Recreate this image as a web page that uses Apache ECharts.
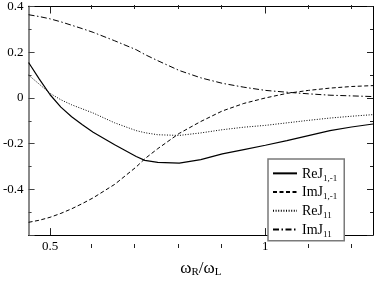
<!DOCTYPE html>
<html>
<head>
<meta charset="utf-8">
<script src="https://cdn.jsdelivr.net/npm/echarts@6/dist/echarts.min.js"></script>
<style>html,body{margin:0;padding:0;background:#fff}#c{width:374px;height:283px}</style>
</head>
<body>
<div id="c"></div>
<script>
// ---- data ----
const xs = [0.45, 0.475, 0.5, 0.525, 0.55, 0.575, 0.6, 0.65, 0.7, 0.72, 0.75, 0.8, 0.85, 0.9, 0.95, 1.0, 1.05, 1.1, 1.15, 1.2, 1.25];
const reJ1m1 = [0.155, 0.082, 0.014, -0.040, -0.082, -0.117, -0.150, -0.205, -0.256, -0.273, -0.282, -0.285, -0.270, -0.245, -0.226, -0.207, -0.187, -0.165, -0.143, -0.127, -0.114];
const imJ1m1 = [-0.544, -0.535, -0.522, -0.505, -0.485, -0.462, -0.437, -0.378, -0.302, -0.266, -0.222, -0.155, -0.103, -0.057, -0.024, 0.000, 0.020, 0.033, 0.043, 0.050, 0.054];
const reJ11 = [0.100, 0.060, 0.020, -0.008, -0.030, -0.048, -0.066, -0.109, -0.143, -0.152, -0.161, -0.164, -0.153, -0.139, -0.128, -0.120, -0.109, -0.098, -0.088, -0.080, -0.073];
const imJ11 = [0.364, 0.356, 0.346, 0.333, 0.318, 0.303, 0.287, 0.250, 0.211, 0.190, 0.163, 0.120, 0.088, 0.064, 0.047, 0.033, 0.025, 0.018, 0.012, 0.009, 0.006];
const xMajor = [0.5, 1];
const xMinor = [0.6, 0.7, 0.8, 0.9, 1.1, 1.2];
const xLabels = ['0.5', '1'];
const seriesNames = ['ReJ1,-1', 'ImJ1,-1', 'ReJ11', 'ImJ11'];
const legendMain = ['ReJ', 'ImJ', 'ReJ', 'ImJ'];
const legendSub = ['1,-1', '1,-1', '11', '11'];

const F = '"Liberation Serif", "Times New Roman", serif';
const pairs = ys => xs.map((x, i) => [x, ys[i]]);
const grid = {left: 26, top: 5, width: 347, height: 243};

const chart = echarts.init(document.getElementById('c'));
const xBase = (pos, ticks, len, gi, extra) => Object.assign({
  type: 'value', gridIndex: gi, position: pos, min: 0.45, max: 1.25,
  axisLine: {show: false, onZero: false},
  axisTick: {show: true, inside: true, length: len, customValues: ticks, lineStyle: {color: '#222', width: 1}},
  axisLabel: {show: false},
  splitLine: {show: false}
}, extra || {});

chart.setOption({
  animation: false,
  backgroundColor: '#fff',
  grid: [Object.assign({}, grid), Object.assign({}, grid)],
  xAxis: [
    xBase('bottom', xMajor, 7, 0, {
      axisLine: {show: true, onZero: false, lineStyle: {color: '#000', width: 1}},
      axisLabel: {show: true, customValues: xMajor, margin: 5, fontSize: 13, fontFamily: F, color: '#000',
        formatter: v => xLabels[xMajor.findIndex(m => Math.abs(m - v) < 1e-9)] || ''},
      name: '{a|ω}{s|R}{a|/ω}{s|L}',
      nameLocation: 'middle', nameGap: 10,
      nameTextStyle: {rich: {
        a: {fontFamily: F, fontSize: 17, color: '#000', lineHeight: 16, verticalAlign: 'top'},
        s: {fontFamily: F, fontSize: 11, color: '#000', lineHeight: 11, padding: [9, 0, 0, 0]}
      }}
    }),
    xBase('top', xMajor, 7, 0, {axisLine: {show: true, onZero: false, lineStyle: {color: '#000', width: 1}}}),
    xBase('bottom', xMinor, 4, 1),
    xBase('top', xMinor, 4, 1)
  ],
  yAxis: [
    {type: 'value', gridIndex: 0, position: 'left', min: -0.6, max: 0.4, interval: 0.2,
      axisLine: {show: true, onZero: false, lineStyle: {color: '#8a8a8a', width: 2}},
      axisTick: {show: true, inside: true, length: 6, lineStyle: {color: '#444'}},
      minorTick: {show: true, splitNumber: 2, length: 3, lineStyle: {color: '#444'}},
      axisLabel: {margin: 5, fontSize: 13, fontFamily: F, color: '#000',
        formatter: v => Math.abs(v + 0.6) < 1e-9 ? '' : String(Math.round(v * 10) / 10)},
      splitLine: {show: false}},
    {type: 'value', gridIndex: 0, position: 'right', min: -0.6, max: 0.4, interval: 0.2,
      axisLine: {show: true, onZero: false, lineStyle: {color: '#000', width: 1}},
      axisTick: {show: true, inside: true, length: 6, lineStyle: {color: '#222'}},
      minorTick: {show: true, splitNumber: 2, length: 3, lineStyle: {color: '#222'}},
      axisLabel: {show: false}, splitLine: {show: false}},
    {type: 'value', gridIndex: 1, min: -0.6, max: 0.4, show: false}
  ],
  legend: {
    data: seriesNames,
    orient: 'vertical', left: 268, top: 159,
    padding: [5, 7, 2, 4], itemGap: 0, itemWidth: 24, itemHeight: 14,
    backgroundColor: '#fff', borderColor: '#7a7a7a', borderWidth: 1.5, borderRadius: 0,
    itemStyle: {opacity: 0},
    formatter: n => { const i = seriesNames.indexOf(n); return '{a|' + legendMain[i] + '}{s|' + legendSub[i] + '}'; },
    textStyle: {rich: {
      a: {fontFamily: F, fontSize: 14, color: '#000', lineHeight: 13, verticalAlign: 'top'},
      s: {fontFamily: F, fontSize: 9, color: '#000', lineHeight: 9, padding: [9.7, 0, 0, 0]}
    }}
  },
  series: [
    {name: seriesNames[0], type: 'line', xAxisIndex: 0, yAxisIndex: 0, data: pairs(reJ1m1), symbol: 'none',
      lineStyle: {color: '#000', width: 1.2, type: 'solid'}, itemStyle: {color: '#000'}},
    {name: seriesNames[1], type: 'line', xAxisIndex: 0, yAxisIndex: 0, data: pairs(imJ1m1), symbol: 'none',
      lineStyle: {color: '#000', width: 1, type: [4, 2.5]}, itemStyle: {color: '#000'}},
    {name: seriesNames[2], type: 'line', xAxisIndex: 0, yAxisIndex: 0, data: pairs(reJ11), symbol: 'none',
      lineStyle: {color: '#000', width: 1, type: [1, 1.6]}, itemStyle: {color: '#000'}},
    {name: seriesNames[3], type: 'line', xAxisIndex: 0, yAxisIndex: 0, data: pairs(imJ11), symbol: 'none',
      lineStyle: {color: '#000', width: 1, type: [6, 2.5, 1.5, 2.5]}, itemStyle: {color: '#000'}}
  ]
});
</script>
</body>
</html>
